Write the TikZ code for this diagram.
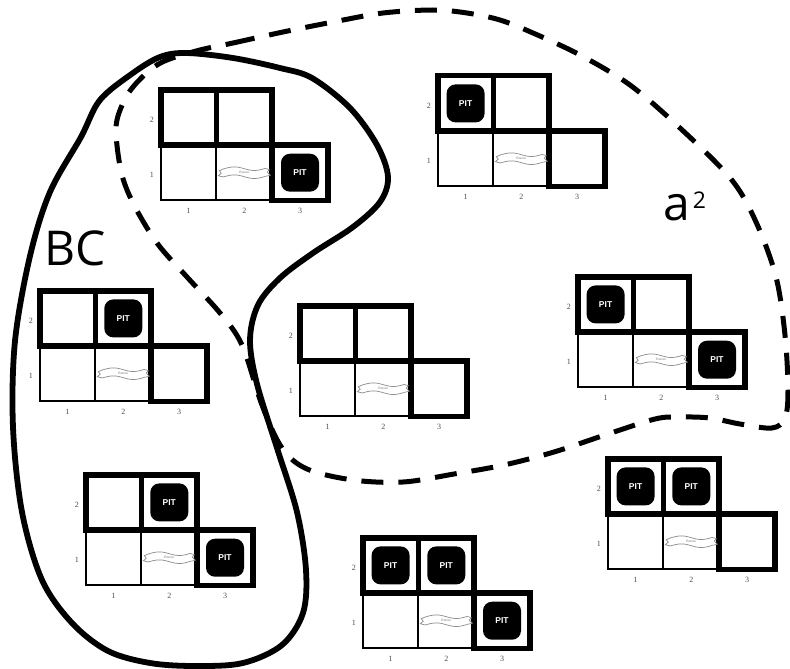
\documentclass[tikz,border=0pt]{standalone}
\usepackage{fontspec}
\setmainfont{Liberation Serif}
\newfontfamily\labfont{Open Sans}
\newfontfamily\pitfont{Liberation Sans}
\tikzset{
  thickln/.style={line width=5.5pt, line join=miter},
  thinln/.style={line width=2pt},
  pitbox/.style={fill=black, rounded corners=9pt, minimum width=38pt, minimum height=38pt,
    inner sep=0pt, text=white, font=\pitfont\bfseries\fontsize{8.5}{8.5}\selectfont},
  axlab/.style={font=\fontsize{8}{8}\selectfont, text=black!70, inner sep=0pt},
  breezeln/.style={draw=black!45, line width=0.7pt},
  bztext/.style={font=\fontsize{3.5}{3.5}\selectfont, text=black!55, inner sep=0pt},
  bigsolid/.style={line width=5.8pt},
  bigdash/.style={line width=5pt, dash pattern=on 22pt off 15pt},
  biglab/.style={font=\labfont\fontsize{48}{48}\selectfont, inner sep=0pt, anchor=base west}
}
% grid: name, x, y (outer top-left)
\newcommand\wgrid[3]{%
\begin{scope}[shift={(#2+2.75,#3+2.75)}]
  \draw[thinln] (0,55.3) rectangle (111.4,110.6);
  \draw[thinln] (55.7,55.3) -- (55.7,110.6);
  \draw[thickln] (0,0) rectangle (111.4,55.3);
  \draw[thickln] (55.7,0) -- (55.7,55.3);
  \draw[thickln] (111.4,55.3) rectangle (167.1,110.6);
  \begin{scope}[shift={(83.55,82.95)}]
    \draw[breezeln] plot[domain=-21:21,samples=25,smooth] (\x,{-4+1.8*sin(9*\x)});
    \draw[breezeln] plot[domain=-21:21,samples=25,smooth] (\x,{4+1.8*sin(9*\x)});
    \draw[breezeln] (-21,-3.7) -- (-25,-2) -- (-23,0.5) -- (-26,3) -- (-21,4.3);
    \draw[breezeln] (21,-4.3) -- (25,-3) -- (23,-0.5) -- (26,2.5) -- (21,3.7);
    \node[bztext] (#1bz) at (0,0) {Breeze};
  \end{scope}
  \node[axlab] (#1xa) at (27.85,121) {1};
  \node[axlab] (#1xb) at (83.55,121) {2};
  \node[axlab] (#1xc) at (139.25,121) {3};
  \node[axlab] (#1ya) at (-9,30) {2};
  \node[axlab] (#1yb) at (-9,85) {1};
\end{scope}}
% pit: name, grid x, grid y, col, row
\newcommand\wpit[5]{%
  \node[pitbox] (#1) at ({#2+2.75+(#4-0.5)*55.7},{#3+2.75+(2-#5)*55.3+27.65}) {PIT};}
\begin{document}
\begin{tikzpicture}[x=1pt,y=-1pt]
\useasboundingbox (0,0) rectangle (790,669);
\fill[white] (0,0) rectangle (790,669);

\wgrid{ga}{158}{87}
\wpit{gapc}{158}{87}{3}{1}

\wgrid{gb}{435}{73}
\wpit{gbpa}{435}{73}{1}{2}

\wgrid{gc}{37}{288}
\wpit{gcpb}{37}{288}{2}{2}

\wgrid{gd}{297}{303}

\wgrid{ge}{575}{274}
\wpit{gepa}{575}{274}{1}{2}
\wpit{gepc}{575}{274}{3}{1}

\wgrid{gf}{83}{472}
\wpit{gfpb}{83}{472}{2}{2}
\wpit{gfpc}{83}{472}{3}{1}

\wgrid{gg}{360}{535}
\wpit{ggpa}{360}{535}{1}{2}
\wpit{ggpb}{360}{535}{2}{2}
\wpit{ggpc}{360}{535}{3}{1}

\wgrid{gh}{605}{456}
\wpit{ghpa}{605}{456}{1}{2}
\wpit{ghpb}{605}{456}{2}{2}

% dashed region a^2
\draw[bigdash] plot[smooth cycle, tension=0.55] coordinates {
 (200,50) (233,43) (283,32) (333,22) (383,13) (433,10) (467,13) (500,20) (533,33)
 (580,55) (630,85) (680,128) (731,179) (756,222) (776,277) (785,335) (788,390)
 (785,418) (772,428) (740,424) (710,418) (680,417) (655,419) (605,435) (554,452)
 (504,465) (454,474) (403,482) (353,480) (307,469) (282,448) (262,405) (242,345)
 (220,313) (187,277) (157,243) (133,203) (121,171) (116,128) (123,103) (133,87)
 (150,70) (167,60)};

% solid region BC
\draw[bigsolid] plot[smooth cycle, tension=0.55] coordinates {
 (186,53) (233,58) (280,68) (312,78) (350,108) (377,145) (388,177) (380,202)
 (353,227) (313,253) (280,278) (258,305) (250,340) (257,384) (277,448) (297,512)
 (306,570) (303,613) (282,645) (243,663) (195,666) (150,663) (108,651) (72,623)
 (42,580) (22,512) (13,427) (15,341) (30,256) (50,192) (81,137) (100,100)
 (133,73) (160,57)};

\node[biglab] (bc) at (44,265) {BC};
\node[biglab] (asq) at (663,220) {a\hspace{3pt}\raisebox{12pt}{\fontsize{23}{23}\selectfont 2}};
\end{tikzpicture}
\end{document}
